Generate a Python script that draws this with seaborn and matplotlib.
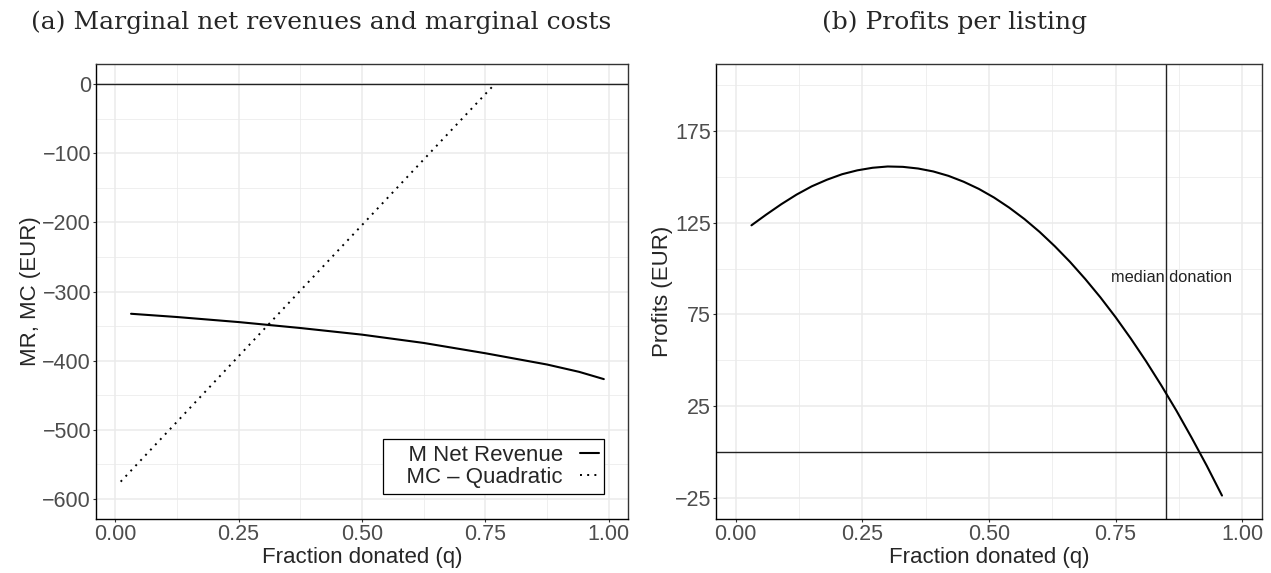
import numpy as np
import pandas as pd
import matplotlib
matplotlib.use("Agg")
import matplotlib.pyplot as plt
import seaborn as sns

# panel (a): marginal net revenue and marginal cost (EUR)
q_mr = [0.032, 0.125, 0.25, 0.375, 0.5, 0.625, 0.75, 0.875, 0.94, 0.99]
mr = [-332.2, -336.9, -344.2, -352.8, -362.4, -374.4, -389.3, -405.6, -416.2, -426.7]
q_mc = [0.011, 0.2, 0.4, 0.6, 0.769]
mc = [-575.0, -431.5, -279.8, -128.1, 0.0]

# panel (b): profits per listing (EUR)
q_pr = [0.031, 0.06, 0.09, 0.12, 0.15, 0.18, 0.21, 0.24, 0.27, 0.30, 0.33,
        0.36, 0.39, 0.42, 0.45, 0.48, 0.51, 0.54, 0.57, 0.60, 0.63, 0.66,
        0.69, 0.72, 0.75, 0.78, 0.81, 0.84, 0.87, 0.90, 0.93, 0.96]
profit = [123.5, 129.3, 135.0, 140.2, 144.7, 148.3, 151.3, 153.4, 154.8, 155.5,
          155.3, 154.4, 152.8, 150.4, 147.2, 143.3, 138.6, 133.1, 126.9, 119.9,
          112.1, 103.6, 94.3, 84.3, 73.5, 61.9, 49.6, 36.5, 22.7, 8.0, -7.3, -23.5]
median_q = 0.85

x_ticks = [0.0, 0.25, 0.5, 0.75, 1.0]
x_labels = ["0.00", "0.25", "0.50", "0.75", "1.00"]
y_ticks_a = [0, -100, -200, -300, -400, -500, -600]
y_ticks_b = [-25, 25, 75, 125, 175]

sns.set_style("white")
plt.rcParams['font.family'] = ['Liberation Sans', 'DejaVu Sans']

grid_col = "#EBEBEB"
tick_col = "#4D4D4D"
edge_col = "#333333"
fs = 15.5


def style_axis(ax, yticks, ylim, yminor):
    ax.set_xlim(-0.039, 1.039)
    ax.set_ylim(*ylim)
    ax.set_xticks(x_ticks)
    ax.set_xticklabels(x_labels)
    ax.set_yticks(yticks)
    ax.set_yticklabels([str(v).replace("-", "\u2212") for v in yticks])
    ax.set_xticks([0.125, 0.375, 0.625, 0.875], minor=True)
    ax.set_yticks(yminor, minor=True)
    ax.grid(which="major", color=grid_col, lw=1.1, zorder=0)
    ax.grid(which="minor", color=grid_col, lw=0.55, zorder=0)
    ax.set_axisbelow(True)
    ax.tick_params(which="major", length=2.5, width=0.8, color=edge_col,
                   labelsize=fs, labelcolor=tick_col, pad=1, direction="out",
                   bottom=True, left=True)
    ax.tick_params(which="minor", length=0, bottom=False, left=False)
    for s in ax.spines.values():
        s.set_color(edge_col)
        s.set_linewidth(1.0)
    ax.spines["left"].set_color("black")
    ax.spines["bottom"].set_color("black")


fig = plt.figure(figsize=(12.71, 5.73), dpi=100)
ax1 = fig.add_axes([96 / 1271, 54 / 573, 532 / 1271, 455 / 573])
ax2 = fig.add_axes([716 / 1271, 54 / 573, 546 / 1271, 455 / 573])

# (a)
df_mr = pd.DataFrame({"q": q_mr, "v": mr})
df_mc = pd.DataFrame({"q": q_mc, "v": mc})
ax1.axhline(0, color="#222222", lw=1.0, zorder=2)
sns.lineplot(data=df_mr, x="q", y="v", ax=ax1, color="black", lw=1.5,
             label="   M Net Revenue", estimator=None, sort=False)
sns.lineplot(data=df_mc, x="q", y="v", ax=ax1, color="black", lw=1.4,
             linestyle=(0, (1, 2.7)), label="   MC \u2013 Quadratic",
             estimator=None, sort=False)
style_axis(ax1, y_ticks_a, (-629, 29), [-50, -150, -250, -350, -450, -550])
ax1.set_xlabel("Fraction donated (q)", fontsize=16, labelpad=1.5)
ax1.set_ylabel("MR, MC (EUR)", fontsize=16, labelpad=1)
leg = ax1.legend(loc="lower right", bbox_to_anchor=(0.955, 0.056),
                 markerfirst=False, fontsize=16, handlelength=0.85,
                 handletextpad=0.75, borderpad=0.25, labelspacing=0.05,
                 borderaxespad=0, fancybox=False, framealpha=1,
                 edgecolor="black")
leg.get_frame().set_linewidth(0.9)
for t in leg.get_texts():
    t.set_ha("right")

# (b)
df_pr = pd.DataFrame({"q": q_pr, "v": profit})
ax2.axhline(0, color="#222222", lw=1.0, zorder=2)
ax2.axvline(median_q, color="#222222", lw=1.0, zorder=2)
sns.lineplot(data=df_pr, x="q", y="v", ax=ax2, color="black", lw=1.5,
             estimator=None, sort=False)
style_axis(ax2, y_ticks_b, (-36.25, 211.25), [0, 50, 100, 150, 200])
ax2.text(0.861, 95.2, "median donation", fontsize=11.8, ha="center",
         va="center", color="#222222")
ax2.set_xlabel("Fraction donated (q)", fontsize=16, labelpad=1.5)
ax2.set_ylabel("Profits (EUR)", fontsize=16, labelpad=1)

# subfigure captions
fig.text(0.2525, 0.962, "(a) Marginal net revenues and marginal costs",
         family=["DejaVu Serif"], fontsize=18,
         ha="center", va="center")
fig.text(0.751, 0.962, "(b) Profits per listing",
         family=["DejaVu Serif"], fontsize=18,
         ha="center", va="center")

fig.savefig("out.png", dpi=100)
